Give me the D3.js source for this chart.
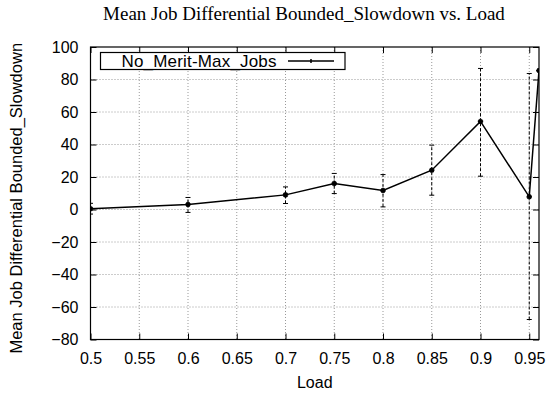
<!DOCTYPE html>
<html>
<head>
<meta charset="utf-8">
<script src="https://cdn.jsdelivr.net/npm/d3@7"></script>
<style>
  body { margin: 0; background: #fff; }
  svg { display: block; }
  .tick text { font-family: "Liberation Sans", Arial, sans-serif; font-size: 16px; fill: #000; }
</style>
</head>
<body>
<div id="chart"></div>
<script>
// data
const loads = [0.5, 0.6, 0.7, 0.75, 0.8, 0.85, 0.9, 0.95, 0.96];
const means = [0.5, 3.1, 9.0, 16.0, 11.7, 24.2, 54.2, 7.8, 85.5];
const lows = [-2.8, -1.8, 3.7, 9.8, 1.6, 8.8, 20.5, -67.7, 85.5];
const highs = [3.8, 7.4, 13.9, 22.2, 21.5, 39.6, 86.8, 83.7, 85.5];
const xTicks = [0.5, 0.55, 0.6, 0.65, 0.7, 0.75, 0.8, 0.85, 0.9, 0.95];
const yTicks = [-80, -60, -40, -20, 0, 20, 40, 60, 80, 100];
const seriesName = 'No_Merit-Max_Jobs';

const width = 550;
const height = 396;
const margin = { top: 47, right: 11, bottom: 56.5, left: 90.5 };
const plotW = width - margin.left - margin.right;
const plotH = height - margin.top - margin.bottom;

const svg = d3.select('#chart').append('svg')
    .attr('width', width)
    .attr('height', height);

const x = d3.scaleLinear().domain([0.5, 0.96]).range([0, plotW]);
const y = d3.scaleLinear().domain([-80, 100]).range([plotH, 0]);

const g = svg.append('g')
    .attr('transform', `translate(${margin.left},${margin.top})`);

// grid
g.append('g').selectAll('line.gx')
    .data(xTicks.slice(1))
    .join('line')
    .attr('x1', d => x(d)).attr('x2', d => x(d))
    .attr('y1', 0).attr('y2', plotH)
    .attr('stroke', '#999').attr('stroke-width', 1)
    .attr('stroke-dasharray', '1,2');
g.append('g').selectAll('line.gy')
    .data(yTicks.slice(1, -1))
    .join('line')
    .attr('x1', 0).attr('x2', plotW)
    .attr('y1', d => y(d)).attr('y2', d => y(d))
    .attr('stroke', '#999').attr('stroke-width', 1)
    .attr('stroke-dasharray', '1,2');

// axes (ticks inward, mirrored)
g.append('g')
    .attr('transform', `translate(0,${plotH})`)
    .call(d3.axisBottom(x).tickValues(xTicks).tickSize(-6).tickPadding(13)
        .tickFormat(d3.format('')));
g.append('g')
    .call(d3.axisLeft(y).tickValues(yTicks).tickSize(-6).tickPadding(12));
g.append('g')
    .call(d3.axisTop(x).tickValues(xTicks).tickSize(-6).tickFormat(''));
g.append('g')
    .attr('transform', `translate(${plotW},0)`)
    .call(d3.axisRight(y).tickValues(yTicks).tickSize(-6).tickFormat(''));
g.selectAll('.domain').remove();
g.selectAll('.tick line').attr('stroke', '#000');

g.append('rect')
    .attr('width', plotW).attr('height', plotH)
    .attr('fill', 'none').attr('stroke', '#000').attr('stroke-width', 1.2);

// clip for data
svg.append('defs').append('clipPath').attr('id', 'clip')
    .append('rect').attr('width', plotW).attr('height', plotH);
const plot = g.append('g').attr('clip-path', 'url(#clip)');

const pts = loads.map((d, i) => ({ x: d, m: means[i], lo: lows[i], hi: highs[i] }));

// error bars
const eb = plot.append('g').selectAll('g').data(pts).join('g');
eb.append('line')
    .attr('x1', d => x(d.x)).attr('x2', d => x(d.x))
    .attr('y1', d => y(d.lo)).attr('y2', d => y(d.hi))
    .attr('stroke', '#000').attr('stroke-width', 1)
    .attr('stroke-dasharray', '3,2');
eb.selectAll('line.cap')
    .data(d => [[d.x, d.lo], [d.x, d.hi]])
    .join('line')
    .attr('x1', d => x(d[0]) - 2.5).attr('x2', d => x(d[0]) + 2.5)
    .attr('y1', d => y(d[1])).attr('y2', d => y(d[1]))
    .attr('stroke', '#000').attr('stroke-width', 1);

// line
plot.append('path')
    .datum(pts)
    .attr('fill', 'none')
    .attr('stroke', '#000')
    .attr('stroke-width', 1.5)
    .attr('d', d3.line().x(d => x(d.x)).y(d => y(d.m)));

// markers (star)
const star = d3.symbol().type(d3.symbolCross).size(16);
plot.append('g').selectAll('path')
    .data(pts)
    .join('path')
    .attr('transform', d => `translate(${x(d.x)},${y(d.m)}) rotate(45)`)
    .attr('d', star)
    .attr('fill', '#000');
plot.append('g').selectAll('path')
    .data(pts)
    .join('path')
    .attr('transform', d => `translate(${x(d.x)},${y(d.m)})`)
    .attr('d', star)
    .attr('fill', '#000');

// legend
const legend = svg.append('g');
legend.append('rect')
    .attr('x', 100.5).attr('y', 52.5)
    .attr('width', 244.5).attr('height', 17)
    .attr('fill', '#fff').attr('stroke', '#000').attr('stroke-width', 1.2);
legend.append('text')
    .attr('x', 121.5).attr('y', 66.5)
    .attr('font-family', '"Liberation Sans", Arial, sans-serif')
    .attr('font-size', 17)
    .attr('textLength', 155)
    .text(seriesName);
legend.append('line')
    .attr('x1', 288).attr('x2', 334).attr('y1', 61).attr('y2', 61)
    .attr('stroke', '#000').attr('stroke-width', 1.5);
legend.append('line')
    .attr('x1', 311).attr('x2', 311).attr('y1', 59).attr('y2', 63)
    .attr('stroke', '#000').attr('stroke-width', 1.5);

// title and axis labels
svg.append('text')
    .attr('x', 304).attr('y', 20)
    .attr('text-anchor', 'middle')
    .attr('font-family', '"Liberation Serif", "Times New Roman", serif')
    .attr('font-size', 19)
    .text('Mean Job Differential Bounded_Slowdown vs. Load');
svg.append('text')
    .attr('x', margin.left + plotW / 2).attr('y', 388)
    .attr('text-anchor', 'middle')
    .attr('font-family', '"Liberation Sans", Arial, sans-serif')
    .attr('font-size', 16)
    .text('Load');
svg.append('text')
    .attr('transform', `translate(22,${margin.top + plotH / 2 + 5}) rotate(-90)`)
    .attr('text-anchor', 'middle')
    .attr('font-family', '"Liberation Sans", Arial, sans-serif')
    .attr('font-size', 16.5)
    .text('Mean Job Differential Bounded_Slowdown');
</script>
</body>
</html>
